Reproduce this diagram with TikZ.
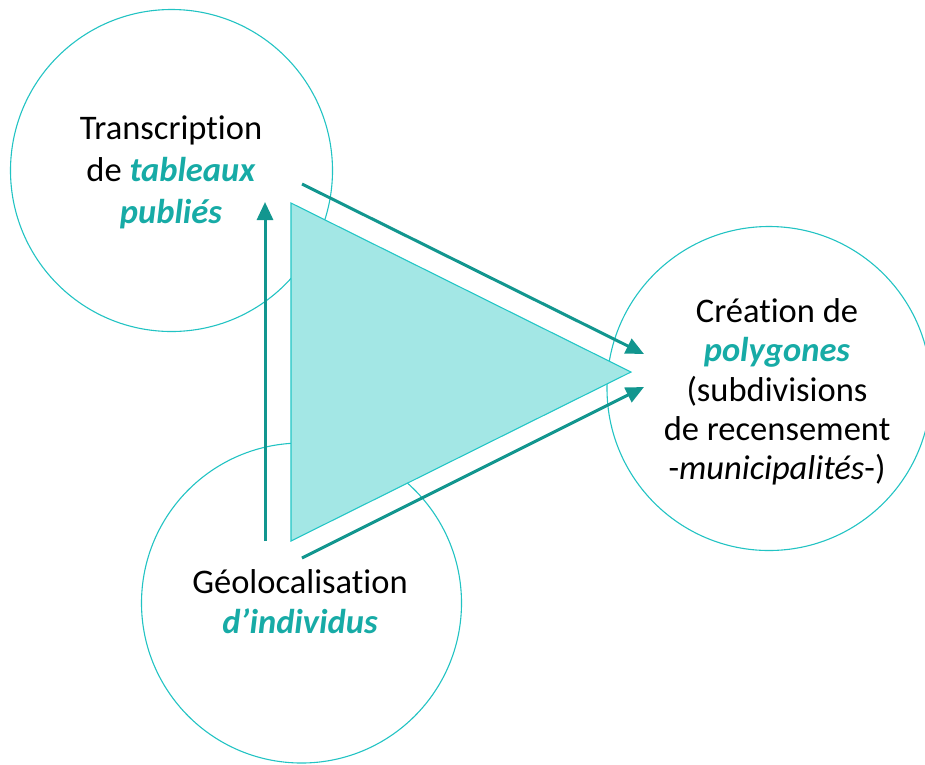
\documentclass[tikz,border=0pt]{standalone}
\usepackage{fontspec}
\setmainfont{Carlito}[Ligatures=NoCommon]
\usetikzlibrary{arrows.meta,calc}
\definecolor{ringcol}{HTML}{22C3C3}
\definecolor{trifill}{HTML}{A3E7E5}
\definecolor{tridraw}{HTML}{24C6C6}
\definecolor{flowcol}{HTML}{12968F}
\definecolor{tealtxt}{HTML}{17ABA6}
\newcommand{\tealit}[1]{\textcolor{tealtxt}{\textbf{\textit{#1}}}}

\begin{document}
\begin{tikzpicture}[
  x=1pt, y=-1pt,
  every node/.style={align=center, inner sep=0},
  ring/.style={circle, draw=ringcol, line width=1.1pt, minimum size=#1},
  txt/.style={font=\fontsize{34.5}{#1}\selectfont},
  flow/.style={draw=flowcol, line width=3pt, -{Triangle[length=18pt,width=16pt]}}
]
\useasboundingbox (0,0) rectangle (925,764);

% circles
\node[ring=322] (tab) at (171.5,170.5) {};
\node[ring=320] (geo) at (301.5,603) {};
\node[ring=324] (poly) at (769,388.5) {};

% triangle
\coordinate (tTop) at (291,203);
\coordinate (tBot) at (291,541);
\coordinate (tTip) at (631,372);
\filldraw[fill=trifill, draw=tridraw, line width=1.1pt] (tTop) -- (tTip) -- (tBot) -- cycle;

% arrows
\coordinate (upS) at (265,541);
\coordinate (upE) at (265,202);
\coordinate (hiS) at (302,184);
\coordinate (hiE) at (644,354);
\coordinate (loS) at (302,558);
\coordinate (loE) at (644,387);
\draw[flow] (upS) -- (upE);
\draw[flow] (hiS) -- (hiE);
\draw[flow] (loS) -- (loE);

% texts
\node[txt=42] (tabT) at (171,172) {Transcription\\de \tealit{tableaux}\\\tealit{publiés}};
\node[txt=40] (geoT) at (300,602) {Géolocalisation\\\tealit{d’individus}};
\node[txt=39.3] (polyT) at (777,392) {Création de\\\tealit{polygones}\\(subdivisions\\de recensement\\-\textit{municipalités}-)};
\end{tikzpicture}
\end{document}
